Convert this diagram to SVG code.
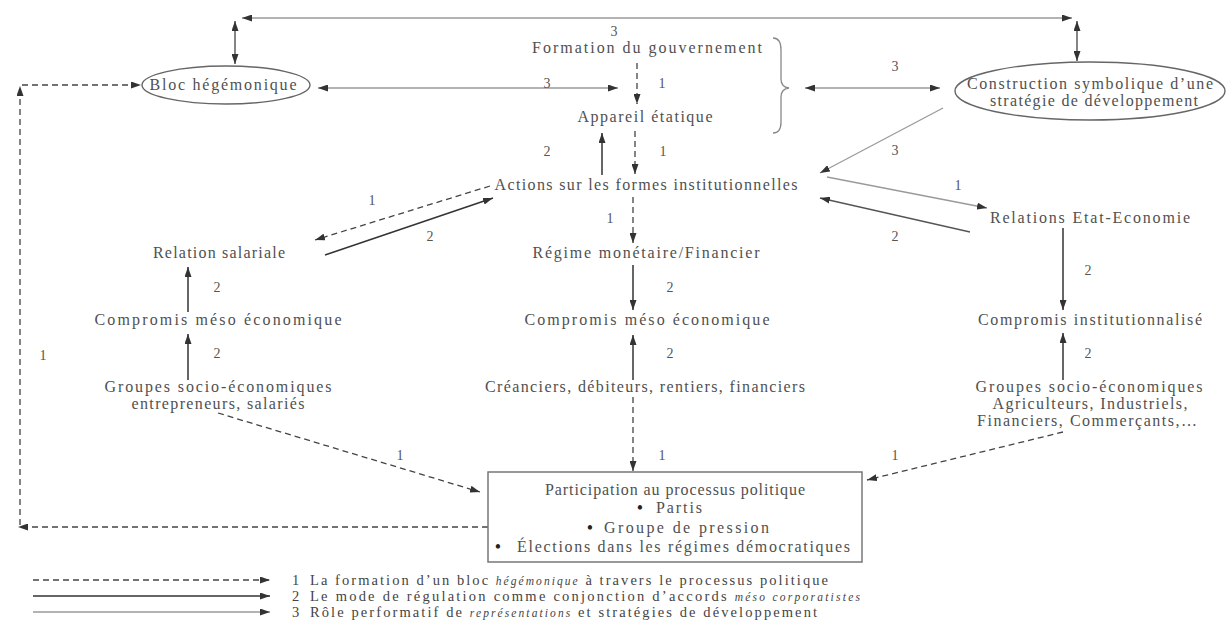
<svg xmlns="http://www.w3.org/2000/svg" width="1227" height="623" viewBox="0 0 1227 623">
<style>
.n{font-family:"Liberation Serif","Times New Roman",serif;font-size:16px;fill:#505050;text-anchor:middle}
.ns{font-family:"Liberation Serif","Times New Roman",serif;font-size:16px;fill:#505050}
.bu{font-family:"Liberation Serif","Times New Roman",serif;font-size:18px;fill:#222;text-anchor:middle}
.lb{font-family:"Liberation Serif","Times New Roman",serif;font-size:14px;fill:#555;text-anchor:middle}
.lg{font-family:"Liberation Serif","Times New Roman",serif;font-size:14.5px;fill:#444}
.it{font-style:italic;font-size:11.5px}
.t1{fill:none;stroke:#444;stroke-width:1.3;stroke-dasharray:6 4}
.t2{fill:none;stroke:#333;stroke-width:1.5}
.t3{fill:none;stroke:#9a9a9a;stroke-width:1.3}
.shape{fill:#fff;stroke:#666;stroke-width:1.4}
</style>
<defs>
<marker id="ah" viewBox="0 0 10 7" refX="10" refY="3.5" markerWidth="10" markerHeight="7" markerUnits="userSpaceOnUse" orient="auto-start-reverse">
<path d="M0,0 L10,3.5 L0,7 z" fill="#333"/>
</marker>
</defs>
<rect width="1227" height="623" fill="#fff"/>

<g id="connectors">
<line class="t3" x1="242" y1="18" x2="1072" y2="18" marker-start="url(#ah)" marker-end="url(#ah)"/>
<line class="t2" x1="235" y1="21" x2="235" y2="64" marker-start="url(#ah)" marker-end="url(#ah)" style="stroke-width:1.2"/>
<line class="t2" x1="1077" y1="21" x2="1077" y2="61" marker-start="url(#ah)" marker-end="url(#ah)" style="stroke-width:1.2"/>
<line class="t3" x1="318" y1="88" x2="618" y2="88" marker-start="url(#ah)" marker-end="url(#ah)"/>
<line class="t3" x1="805" y1="88" x2="940" y2="88" marker-start="url(#ah)" marker-end="url(#ah)"/>
<path d="M773,38 Q781,38 781,50 L781,79 Q781,87 789,88 Q781,89 781,97 L781,122 Q781,133 773,133" fill="none" stroke="#888" stroke-width="1.3"/>
<line class="t1" x1="637" y1="63" x2="637" y2="104" marker-end="url(#ah)"/>
<line class="t1" x1="635" y1="131" x2="635" y2="174" marker-end="url(#ah)"/>
<line class="t2" x1="602" y1="175" x2="602" y2="133" marker-end="url(#ah)"/>
<line class="t3" x1="943" y1="108" x2="820" y2="173" marker-end="url(#ah)"/>
<line class="t3" x1="827" y1="177" x2="987" y2="208" marker-end="url(#ah)"/>
<line class="t2" x1="970" y1="232" x2="820" y2="198" marker-end="url(#ah)" style="stroke:#555;stroke-width:1.3"/>
<line class="t1" x1="490" y1="186" x2="315" y2="240" marker-end="url(#ah)"/>
<line class="t2" x1="325" y1="255" x2="493" y2="198" marker-end="url(#ah)"/>
<line class="t1" x1="633" y1="197" x2="633" y2="243" marker-end="url(#ah)"/>
<line class="t2" x1="633" y1="265" x2="633" y2="310" marker-end="url(#ah)"/>
<line class="t2" x1="633" y1="380" x2="633" y2="335" marker-end="url(#ah)"/>
<line class="t1" x1="633" y1="397" x2="633" y2="471" marker-end="url(#ah)"/>
<line class="t2" x1="188" y1="312" x2="188" y2="267" marker-end="url(#ah)"/>
<line class="t2" x1="188" y1="380" x2="188" y2="334" marker-end="url(#ah)"/>
<line class="t2" x1="1063" y1="228" x2="1063" y2="310" marker-end="url(#ah)"/>
<line class="t2" x1="1063" y1="380" x2="1063" y2="333" marker-end="url(#ah)"/>
<line class="t1" x1="218" y1="413" x2="480" y2="492" marker-end="url(#ah)"/>
<line class="t1" x1="1063" y1="432" x2="867" y2="480" marker-end="url(#ah)"/>
<line class="t1" x1="488" y1="527" x2="18" y2="527" marker-end="url(#ah)"/>
<line class="t1" x1="20" y1="525" x2="20" y2="86" marker-end="url(#ah)"/>
<line class="t1" x1="22" y1="85" x2="141" y2="85" marker-end="url(#ah)"/>
<text class="lb" x="614" y="36">3</text>
<text class="lb" x="547" y="88">3</text>
<text class="lb" x="662" y="88">1</text>
<text class="lb" x="895" y="71">3</text>
<text class="lb" x="547" y="156">2</text>
<text class="lb" x="663" y="156">1</text>
<text class="lb" x="895" y="155">3</text>
<text class="lb" x="958" y="190">1</text>
<text class="lb" x="895" y="241">2</text>
<text class="lb" x="372" y="205">1</text>
<text class="lb" x="430" y="241">2</text>
<text class="lb" x="610" y="223">1</text>
<text class="lb" x="670" y="292">2</text>
<text class="lb" x="670" y="358">2</text>
<text class="lb" x="217" y="292">2</text>
<text class="lb" x="217" y="358">2</text>
<text class="lb" x="1088" y="275">2</text>
<text class="lb" x="1088" y="358">2</text>
<text class="lb" x="43" y="360">1</text>
<text class="lb" x="400" y="460">1</text>
<text class="lb" x="662" y="460">1</text>
<text class="lb" x="895" y="460">1</text>
</g>

<g id="bloc">
<ellipse class="shape" cx="226" cy="85" rx="84" ry="19"/>
<text class="n" x="223" y="90" textLength="147" lengthAdjust="spacing">Bloc hégémonique</text>
</g>
<g id="formation">
<text class="n" x="647" y="53" textLength="230" lengthAdjust="spacing">Formation du gouvernement</text>
</g>
<g id="appareil">
<text class="n" x="645" y="122" textLength="135" lengthAdjust="spacing">Appareil étatique</text>
</g>
<g id="actions">
<text class="n" x="646" y="190" textLength="303" lengthAdjust="spacing">Actions sur les formes institutionnelles</text>
</g>
<g id="construction">
<ellipse class="shape" cx="1090" cy="91" rx="135" ry="29"/>
<text class="n" x="1090" y="89" textLength="246" lengthAdjust="spacing">Construction symbolique d’une</text>
<text class="n" x="1094" y="106" textLength="208" lengthAdjust="spacing">stratégie de développement</text>
</g>
<g id="relations-etat">
<text class="n" x="1090" y="223" textLength="200" lengthAdjust="spacing">Relations Etat-Economie</text>
</g>
<g id="compromis-inst">
<text class="n" x="1090" y="325" textLength="224" lengthAdjust="spacing">Compromis institutionnalisé</text>
</g>
<g id="groupes-droite">
<text class="n" x="1089" y="392" textLength="227" lengthAdjust="spacing">Groupes socio-économiques</text>
<text class="n" x="1090" y="409" textLength="195" lengthAdjust="spacing">Agriculteurs, Industriels,</text>
<text class="n" x="1087" y="426" textLength="220" lengthAdjust="spacing">Financiers, Commerçants,…</text>
</g>
<g id="regime">
<text class="n" x="646" y="258" textLength="227" lengthAdjust="spacing">Régime monétaire/Financier</text>
</g>
<g id="compromis-centre">
<text class="n" x="647" y="325" textLength="245" lengthAdjust="spacing">Compromis méso économique</text>
</g>
<g id="creanciers">
<text class="n" x="645" y="392" textLength="320" lengthAdjust="spacing">Créanciers, débiteurs, rentiers, financiers</text>
</g>
<g id="relation-salariale">
<text class="n" x="219" y="258" textLength="132" lengthAdjust="spacing">Relation salariale</text>
</g>
<g id="compromis-gauche">
<text class="n" x="218" y="325" textLength="247" lengthAdjust="spacing">Compromis méso économique</text>
</g>
<g id="groupes-gauche">
<text class="n" x="218" y="392" textLength="227" lengthAdjust="spacing">Groupes socio-économiques</text>
<text class="n" x="218" y="409" textLength="173" lengthAdjust="spacing">entrepreneurs, salariés</text>
</g>
<g id="participation">
<rect x="488" y="472" width="374" height="90" fill="#fff" stroke="#777" stroke-width="1.5"/>
<text class="n" x="675" y="495" textLength="260" lengthAdjust="spacing">Participation au processus politique</text>
<text class="bu" x="640" y="514">•</text>
<text class="ns" x="656" y="513" textLength="46" lengthAdjust="spacing">Partis</text>
<text class="bu" x="590" y="534">•</text>
<text class="ns" x="604" y="533" textLength="165" lengthAdjust="spacing">Groupe de pression</text>
<text class="bu" x="498" y="553">•</text>
<text class="ns" x="517" y="552" textLength="333" lengthAdjust="spacing">Élections dans les régimes démocratiques</text>
</g>

<g id="legend">
<line class="t1" x1="33" y1="580" x2="270" y2="580" marker-end="url(#ah)"/>
<line class="t2" x1="33" y1="596" x2="270" y2="596" marker-end="url(#ah)"/>
<line class="t3" x1="33" y1="612" x2="270" y2="612" marker-end="url(#ah)"/>
<text class="lg" x="292" y="585">1</text>
<text class="lg" x="292" y="601">2</text>
<text class="lg" x="292" y="617">3</text>
<text class="lg" x="310" y="585" textLength="518" lengthAdjust="spacing">La formation d’un bloc <tspan class="it">hégémonique</tspan> à travers le processus politique</text>
<text class="lg" x="310" y="601" textLength="550" lengthAdjust="spacing">Le mode de régulation comme conjonction d’accords <tspan class="it">méso corporatistes</tspan></text>
<text class="lg" x="310" y="617" textLength="507" lengthAdjust="spacing">Rôle performatif de <tspan class="it">représentations</tspan> et stratégies de développement</text>
</g>
</svg>
